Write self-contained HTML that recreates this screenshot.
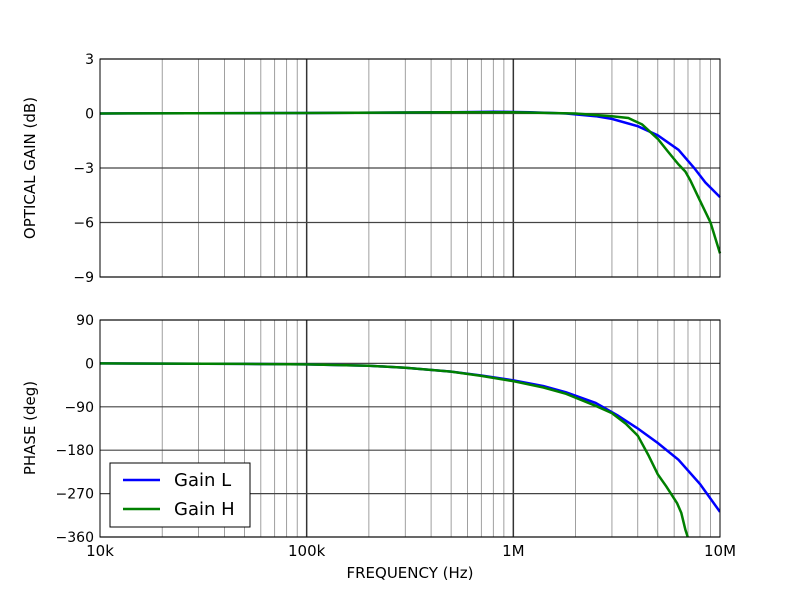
<!DOCTYPE html>
<html><head><meta charset="utf-8"><style>
html,body{margin:0;padding:0;background:#fff;}
svg{display:block;font-family:"DejaVu Sans","Liberation Sans",sans-serif;}
</style></head><body>
<svg id="s" width="800" height="597" viewBox="0 0 800 597" xmlns="http://www.w3.org/2000/svg">
<rect width="800" height="597" fill="#fff"/>
<g id="g"></g>
<text x="35" y="168" font-size="15" text-anchor="middle" transform="rotate(-90 35 168)">OPTICAL GAIN (dB)</text>
<text x="35" y="428" font-size="15" text-anchor="middle" transform="rotate(-90 35 428)">PHASE (deg)</text>
<text x="410" y="578" font-size="15" text-anchor="middle">FREQUENCY (Hz)</text>
<rect x="110" y="463" width="140" height="64" fill="#fff" stroke="#000" stroke-width="1"/>
<line x1="123" y1="480" x2="160" y2="480" stroke="#0000ff" stroke-width="2.5"/>
<line x1="123" y1="509" x2="160" y2="509" stroke="#008000" stroke-width="2.5"/>
<text x="174" y="486" font-size="18">Gain L</text>
<text x="174" y="515" font-size="18">Gain H</text>
</svg>
<script>
var NS="http://www.w3.org/2000/svg",g=document.getElementById('g');
function el(t,a,txt){var e=document.createElementNS(NS,t);for(var k in a)e.setAttribute(k,a[k]);if(txt)e.textContent=txt;g.appendChild(e);return e;}
var X0=100,X1=720,D=(X1-X0)/3;
function fx(f){return X0+D*Math.log10(f/1e4);}
var T0=59,T1=277,B0=320,B1=537;
function ty(v){return T0+(3-v)/12*(T1-T0);}
function by(v){return B0+(90-v)/450*(B1-B0);}
[[T0,T1],[B0,B1]].forEach(function(p){
 for(var d=0;d<3;d++)for(var m=2;m<10;m++){var x=fx(1e4*Math.pow(10,d)*m);
  el('line',{x1:x,x2:x,y1:p[0],y2:p[1],stroke:'#888','stroke-width':0.8});}
 for(var d=1;d<3;d++){var x=fx(1e4*Math.pow(10,d));el('line',{x1:x,x2:x,y1:p[0],y2:p[1],stroke:'#333','stroke-width':1.5});}
});
[3,0,-3,-6,-9].forEach(function(v){var y=ty(v);
 el('line',{x1:X0,x2:X1,y1:y,y2:y,stroke:'#444','stroke-width':1.2});
 el('text',{x:94,y:y+5,'font-size':14,'text-anchor':'end'},(v<0?'\u2212'+(-v):''+v));});
[90,0,-90,-180,-270,-360].forEach(function(v){var y=by(v);
 el('line',{x1:X0,x2:X1,y1:y,y2:y,stroke:'#444','stroke-width':1.2});
 el('text',{x:94,y:y+5,'font-size':14,'text-anchor':'end'},(v<0?'\u2212'+(-v):''+v));});
['10k','100k','1M','10M'].forEach(function(l,i){el('text',{x:X0+D*i,y:556,'font-size':15,'text-anchor':'middle'},l);});
function path(pts,fy,c,clip){var d='';pts.forEach(function(p,i){d+=(i?'L':'M')+fx(p[0]).toFixed(1)+','+fy(p[1]).toFixed(1);});
 el('path',{d:d,fill:'none',stroke:c,'stroke-width':2.5,'clip-path':clip});}
var cp=el('clipPath',{id:'cb'});var r=document.createElementNS(NS,'rect');r.setAttribute('x',X0);r.setAttribute('y',B0);r.setAttribute('width',X1-X0);r.setAttribute('height',B1-B0);cp.appendChild(r);
var gl=[[1e4,0],[1e5,0.03],[5e5,0.07],[8e5,0.1],[1.2e6,0.07],[1.8e6,0],[2.5e6,-0.15],[3e6,-0.3],[4e6,-0.7],[5e6,-1.2],[6.3e6,-2],[7.5e6,-3],[8.5e6,-3.8],[1e7,-4.6]];
var gh=[[1e4,0],[1e5,0.03],[5e5,0.07],[1e6,0.07],[2e6,0],[3e6,-0.15],[3.6e6,-0.25],[4.2e6,-0.6],[5e6,-1.4],[5.6e6,-2.1],[6.3e6,-2.8],[6.8e6,-3.2],[7.2e6,-3.7],[8e6,-4.8],[9e6,-6],[1e7,-7.7]];
var pl=[[1e4,0],[5e4,-1],[1e5,-2],[2e5,-5],[3e5,-9],[5e5,-17],[7e5,-25],[1e6,-35],[1.4e6,-47],[1.8e6,-60],[2.5e6,-82],[3.2e6,-108],[4e6,-135],[5e6,-165],[6.3e6,-200],[8e6,-250],[1e7,-308]];
var ph=[[1e4,0],[5e4,-1],[1e5,-2],[2e5,-5],[3e5,-9],[5e5,-17],[7e5,-26],[1e6,-37],[1.4e6,-50],[1.8e6,-63],[2.5e6,-88],[3e6,-103],[3.5e6,-125],[4e6,-150],[4.5e6,-190],[5e6,-230],[5.5e6,-255],[6.2e6,-290],[6.5e6,-310],[6.8e6,-345],[7.1e6,-370]];
path(gl,ty,'#0000ff');path(gh,ty,'#008000');
path(pl,by,'#0000ff','url(#cb)');path(ph,by,'#008000','url(#cb)');
el('rect',{x:X0,y:T0,width:X1-X0,height:T1-T0,fill:'none',stroke:'#000','stroke-width':1});
el('rect',{x:X0,y:B0,width:X1-X0,height:B1-B0,fill:'none',stroke:'#000','stroke-width':1});
var s=document.getElementById('s');var lg=[].slice.call(s.querySelectorAll('svg > rect:nth-of-type(2), svg > line, svg > text'));
lg.forEach(function(e){s.appendChild(e);});
</script>
</body></html>
